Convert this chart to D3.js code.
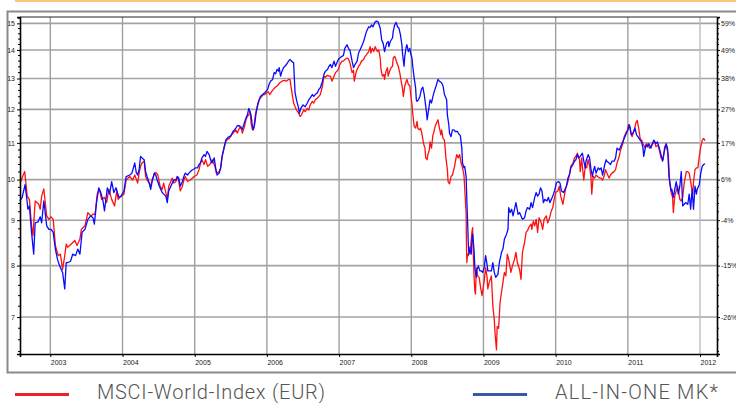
<!DOCTYPE html>
<html>
<head>
<meta charset="utf-8">
<script src="https://cdn.jsdelivr.net/npm/d3@7"></script>
<style>
    body { margin: 0; background: #fff; }
    .tick-label { font-family: "Liberation Sans", Arial, sans-serif; font-size: 7px; fill: #222; }
    .legend-label { font-family: Roboto, "Open Sans", sans-serif; font-weight: 300; font-size: 20px; fill: #555; }
</style>
</head>
<body>
<div id="chart"></div>
<script>
// values: [decimal year, index value]
const msci = [
    [2002.58,9.91],[2002.645,10.21],[2002.68,9.58],[2002.71,9.50],[2002.74,8.87],[2002.76,8.65],[2002.79,9.46],[2002.84,9.38],[2002.86,9.26],[2002.88,9.58],[2002.91,9.76],[2002.95,9.10],[2002.98,9.02],
    [2003.01,9.08],[2003.04,9.02],[2003.07,8.43],[2003.11,8.21],[2003.14,8.24],[2003.17,7.92],[2003.20,8.21],[2003.22,8.46],[2003.24,8.39],[2003.29,8.46],[2003.34,8.54],[2003.37,8.43],[2003.41,8.57],[2003.43,8.79],[2003.48,8.87],[2003.52,9.18],[2003.56,9.10],[2003.59,9.14],[2003.62,9.14],[2003.65,9.63],[2003.68,9.75],[2003.71,9.50],[2003.75,9.55],[2003.78,9.42],[2003.81,9.75],[2003.85,9.50],[2003.89,9.34],[2003.92,9.71],[2003.94,9.50],[2003.98,9.58],
    [2004.02,9.63],[2004.05,9.99],[2004.10,10.08],[2004.14,9.99],[2004.17,10.12],[2004.21,9.91],[2004.23,10.17],[2004.25,10.35],[2004.27,10.44],[2004.30,10.49],[2004.32,10.08],[2004.34,9.99],[2004.37,9.91],[2004.39,9.83],[2004.41,9.99],[2004.45,10.19],[2004.47,10.17],[2004.49,10.12],[2004.52,9.83],[2004.55,9.75],[2004.57,9.91],[2004.60,9.67],[2004.62,9.50],[2004.64,9.83],[2004.66,9.91],[2004.69,10.04],[2004.71,9.91],[2004.74,9.95],[2004.76,10.08],[2004.78,9.95],[2004.80,9.71],[2004.83,9.83],[2004.85,9.99],[2004.87,10.08],[2004.90,9.95],[2004.94,9.99],[2004.99,10.08],
    [2005.03,10.12],[2005.06,10.26],[2005.08,10.44],[2005.10,10.53],[2005.13,10.40],[2005.15,10.53],[2005.18,10.35],[2005.21,10.40],[2005.24,10.53],[2005.28,10.35],[2005.30,10.17],[2005.34,10.21],[2005.36,10.31],[2005.38,10.62],[2005.41,10.89],[2005.44,11.08],[2005.48,11.13],[2005.51,11.23],[2005.55,11.33],[2005.57,11.38],[2005.59,11.28],[2005.62,11.43],[2005.64,11.48],[2005.66,11.28],[2005.69,11.48],[2005.71,11.68],[2005.73,11.78],[2005.75,11.83],[2005.77,11.93],[2005.78,11.58],[2005.80,11.38],[2005.82,11.43],[2005.84,11.83],[2005.87,12.14],[2005.89,12.30],[2005.93,12.41],[2005.95,12.47],[2005.97,12.47],
    [2006.00,12.53],[2006.02,12.56],[2006.04,12.47],[2006.07,12.58],[2006.09,12.64],[2006.11,12.69],[2006.14,12.75],[2006.16,12.80],[2006.18,12.86],[2006.21,12.91],[2006.23,12.93],[2006.25,12.94],[2006.27,12.91],[2006.30,12.97],[2006.32,12.97],[2006.34,12.64],[2006.37,12.20],[2006.39,12.08],[2006.41,11.98],[2006.44,11.88],[2006.46,11.78],[2006.48,11.83],[2006.51,11.98],[2006.53,11.93],[2006.56,12.03],[2006.58,11.98],[2006.60,12.14],[2006.63,12.25],[2006.65,12.20],[2006.67,12.30],[2006.70,12.36],[2006.72,12.41],[2006.74,12.47],[2006.77,12.75],[2006.79,13.08],[2006.81,13.04],[2006.84,13.11],[2006.86,13.08],[2006.88,13.08],[2006.90,12.91],[2006.93,13.08],[2006.95,13.20],[2006.97,13.25],[2006.99,13.31],
    [2007.01,13.48],[2007.04,13.60],[2007.06,13.60],[2007.08,13.66],[2007.11,13.71],[2007.13,13.68],[2007.15,13.54],[2007.18,13.20],[2007.20,13.28],[2007.21,12.91],[2007.24,13.25],[2007.27,13.42],[2007.29,13.48],[2007.31,13.60],[2007.34,13.66],[2007.36,13.77],[2007.38,13.83],[2007.41,13.94],[2007.43,14.12],[2007.44,13.89],[2007.46,14.06],[2007.48,13.94],[2007.50,14.12],[2007.51,14.06],[2007.53,13.94],[2007.55,14.00],[2007.57,13.71],[2007.58,13.31],[2007.60,13.08],[2007.62,13.14],[2007.63,12.97],[2007.65,13.25],[2007.67,13.37],[2007.68,13.08],[2007.70,13.25],[2007.72,13.37],[2007.74,13.42],[2007.75,13.71],[2007.77,13.77],[2007.78,13.71],[2007.80,13.54],[2007.82,13.42],[2007.84,13.20],[2007.86,12.91],[2007.88,12.64],[2007.89,12.41],[2007.91,12.75],[2007.93,12.91],[2007.94,12.97],[2007.96,12.80],[2007.98,12.75],[2007.99,12.53],
    [2008.01,12.14],[2008.02,11.88],[2008.04,11.48],[2008.06,11.43],[2008.08,11.63],[2008.09,11.43],[2008.11,11.38],[2008.13,11.43],[2008.15,11.23],[2008.17,10.98],[2008.19,10.85],[2008.20,10.58],[2008.22,10.53],[2008.23,10.67],[2008.25,10.80],[2008.26,11.03],[2008.28,10.85],[2008.30,11.23],[2008.31,11.28],[2008.33,11.48],[2008.35,11.58],[2008.37,11.68],[2008.39,11.43],[2008.41,11.23],[2008.42,11.38],[2008.44,11.13],[2008.46,11.08],[2008.48,10.58],[2008.50,10.26],[2008.51,9.95],[2008.53,9.89],[2008.55,10.08],[2008.57,10.12],[2008.60,10.35],[2008.62,10.58],[2008.63,10.67],[2008.65,10.58],[2008.67,10.67],[2008.69,10.44],[2008.71,10.31],[2008.73,10.12],[2008.74,9.79],[2008.76,9.14],[2008.765,8.39],[2008.77,8.06],[2008.78,8.24],[2008.79,8.21],[2008.81,8.39],[2008.82,8.35],[2008.84,8.72],[2008.85,8.83],[2008.86,8.24],[2008.87,7.76],[2008.88,7.50],[2008.89,7.43],[2008.90,7.96],[2008.92,7.79],[2008.94,7.76],[2008.96,7.56],[2008.98,7.40],
    [2009.01,7.69],[2009.03,7.96],[2009.05,7.76],[2009.06,7.53],[2009.08,7.66],[2009.11,7.79],[2009.13,7.21],[2009.15,6.95],[2009.16,6.72],[2009.18,6.43],[2009.19,6.83],[2009.21,6.80],[2009.23,7.27],[2009.25,7.47],[2009.27,7.66],[2009.29,7.86],[2009.31,7.79],[2009.33,8.24],[2009.35,8.13],[2009.38,7.86],[2009.40,7.99],[2009.43,8.13],[2009.45,8.28],[2009.47,8.06],[2009.50,7.92],[2009.52,7.72],[2009.54,8.28],[2009.57,8.50],[2009.59,8.72],[2009.61,8.76],[2009.64,8.87],[2009.66,8.91],[2009.67,8.79],[2009.69,8.98],[2009.71,8.87],[2009.73,9.02],[2009.75,8.72],[2009.77,9.06],[2009.80,8.94],[2009.82,8.79],[2009.84,9.02],[2009.87,9.10],[2009.89,8.94],[2009.91,9.02],[2009.94,9.22],[2009.96,9.30],[2009.98,9.50],
    [2010.00,9.67],[2010.03,9.71],[2010.05,9.83],[2010.07,9.58],[2010.10,9.38],[2010.12,9.58],[2010.14,9.79],[2010.17,9.95],[2010.19,10.12],[2010.21,10.35],[2010.24,10.44],[2010.26,10.58],[2010.28,10.62],[2010.30,10.71],[2010.33,10.53],[2010.34,10.21],[2010.36,10.58],[2010.37,10.35],[2010.39,9.99],[2010.41,10.35],[2010.43,10.31],[2010.45,10.53],[2010.47,10.35],[2010.49,10.04],[2010.50,9.63],[2010.52,10.08],[2010.54,10.04],[2010.56,10.12],[2010.58,10.08],[2010.61,10.04],[2010.63,10.04],[2010.65,9.99],[2010.67,10.08],[2010.69,10.26],[2010.71,10.17],[2010.74,10.04],[2010.76,10.12],[2010.78,10.17],[2010.81,10.21],[2010.83,10.26],[2010.85,10.44],[2010.88,10.62],[2010.90,10.80],[2010.93,10.98],[2010.95,11.18],[2010.97,11.28],
    [2011.00,11.38],[2011.01,11.53],[2011.03,11.43],[2011.04,11.28],[2011.06,11.18],[2011.09,11.38],[2011.11,11.58],[2011.13,11.66],[2011.15,11.43],[2011.17,11.13],[2011.19,11.08],[2011.21,10.98],[2011.24,10.85],[2011.26,10.98],[2011.28,10.94],[2011.30,10.85],[2011.33,10.94],[2011.35,10.98],[2011.37,11.03],[2011.39,10.89],[2011.42,10.94],[2011.44,10.76],[2011.46,10.58],[2011.49,10.53],[2011.51,10.89],[2011.53,10.94],[2011.56,10.67],[2011.58,9.91],[2011.60,9.67],[2011.62,9.55],[2011.63,9.18],[2011.65,9.58],[2011.67,9.71],[2011.69,9.83],[2011.72,9.50],[2011.74,9.46],[2011.76,9.55],[2011.78,9.91],[2011.81,10.21],[2011.83,10.21],[2011.85,10.17],[2011.88,9.83],[2011.90,9.63],[2011.91,9.95],[2011.93,10.26],[2011.95,10.31],[2011.97,10.31],[2011.99,10.62],
    [2012.01,10.89],[2012.03,11.08],[2012.05,11.13],[2012.07,11.06]
];

const allInOne = [
    [2002.58,9.46],[2002.61,9.55],[2002.65,9.87],[2002.67,9.58],[2002.69,9.26],[2002.71,9.34],[2002.74,8.72],[2002.77,8.24],[2002.79,8.94],[2002.83,8.96],[2002.86,9.08],[2002.88,8.94],[2002.91,9.46],[2002.95,8.87],[2002.98,8.79],
    [2003.01,8.79],[2003.04,8.72],[2003.07,8.35],[2003.10,8.13],[2003.13,7.99],[2003.17,7.86],[2003.20,7.53],[2003.22,8.06],[2003.24,8.06],[2003.28,8.09],[2003.31,8.24],[2003.35,8.21],[2003.38,8.35],[2003.41,8.24],[2003.44,8.72],[2003.48,8.79],[2003.52,9.02],[2003.56,9.10],[2003.59,9.06],[2003.61,8.91],[2003.64,9.42],[2003.67,9.79],[2003.70,9.67],[2003.73,9.46],[2003.75,9.22],[2003.79,9.79],[2003.82,9.63],[2003.85,9.95],[2003.88,9.67],[2003.91,9.79],[2003.95,9.55],[2003.98,9.58],
    [2004.02,9.71],[2004.05,10.08],[2004.10,10.12],[2004.13,10.17],[2004.17,10.44],[2004.19,10.19],[2004.21,10.12],[2004.23,10.26],[2004.25,10.62],[2004.27,10.58],[2004.30,10.53],[2004.32,10.21],[2004.34,10.08],[2004.37,9.91],[2004.39,9.75],[2004.41,9.95],[2004.44,10.17],[2004.46,10.12],[2004.48,9.99],[2004.51,9.83],[2004.53,9.75],[2004.55,9.67],[2004.57,9.63],[2004.60,9.58],[2004.62,9.42],[2004.64,9.71],[2004.66,9.79],[2004.69,9.91],[2004.71,9.99],[2004.74,9.99],[2004.76,10.08],[2004.78,10.04],[2004.80,9.83],[2004.83,9.95],[2004.85,10.08],[2004.87,10.17],[2004.90,10.12],[2004.92,10.17],[2004.94,10.21],[2004.97,10.26],[2004.99,10.28],
    [2005.01,10.31],[2005.04,10.31],[2005.06,10.40],[2005.08,10.44],[2005.10,10.58],[2005.13,10.67],[2005.15,10.62],[2005.17,10.76],[2005.20,10.67],[2005.22,10.53],[2005.24,10.44],[2005.27,10.58],[2005.29,10.31],[2005.31,10.12],[2005.34,10.17],[2005.36,10.31],[2005.38,10.62],[2005.41,10.89],[2005.43,11.08],[2005.46,11.16],[2005.50,11.20],[2005.53,11.33],[2005.55,11.38],[2005.57,11.43],[2005.59,11.50],[2005.62,11.50],[2005.64,11.43],[2005.66,11.40],[2005.69,11.60],[2005.71,11.73],[2005.73,11.83],[2005.75,12.03],[2005.78,11.83],[2005.80,11.48],[2005.81,11.38],[2005.83,11.53],[2005.85,11.88],[2005.88,12.20],[2005.91,12.41],[2005.94,12.47],[2005.97,12.53],
    [2006.01,12.64],[2006.03,12.80],[2006.05,12.91],[2006.08,12.97],[2006.10,13.20],[2006.12,13.16],[2006.14,13.31],[2006.16,13.25],[2006.17,13.37],[2006.19,13.08],[2006.21,13.25],[2006.23,13.37],[2006.25,13.42],[2006.27,13.48],[2006.30,13.60],[2006.32,13.66],[2006.34,13.60],[2006.37,13.54],[2006.39,12.53],[2006.41,12.30],[2006.44,12.03],[2006.45,11.88],[2006.47,12.03],[2006.50,12.14],[2006.53,12.08],[2006.56,12.20],[2006.58,12.30],[2006.60,12.36],[2006.63,12.47],[2006.65,12.41],[2006.67,12.47],[2006.70,12.53],[2006.72,12.64],[2006.74,12.69],[2006.77,12.91],[2006.79,13.14],[2006.81,13.25],[2006.84,13.31],[2006.86,13.42],[2006.88,13.48],[2006.90,13.37],[2006.93,13.60],[2006.95,13.42],[2006.97,13.54],[2006.99,13.66],
    [2007.01,13.71],[2007.04,13.77],[2007.06,13.80],[2007.08,14.06],[2007.11,14.19],[2007.13,14.06],[2007.15,14.00],[2007.18,13.60],[2007.20,13.37],[2007.22,13.48],[2007.25,13.60],[2007.27,13.89],[2007.29,14.00],[2007.31,14.12],[2007.34,14.31],[2007.36,14.50],[2007.38,14.69],[2007.41,14.87],[2007.43,14.84],[2007.45,14.94],[2007.47,14.87],[2007.50,15.06],[2007.52,15.09],[2007.54,15.06],[2007.57,14.81],[2007.59,14.37],[2007.61,14.25],[2007.63,13.94],[2007.64,14.06],[2007.66,14.25],[2007.68,14.31],[2007.69,14.12],[2007.71,14.31],[2007.74,14.44],[2007.75,14.69],[2007.77,14.94],[2007.79,15.04],[2007.81,14.87],[2007.83,14.81],[2007.85,14.56],[2007.87,14.19],[2007.88,13.83],[2007.90,13.42],[2007.91,13.77],[2007.93,14.12],[2007.94,14.19],[2007.96,13.94],[2007.98,14.06],[2007.99,13.89],
    [2008.01,13.71],[2008.02,13.42],[2008.04,13.02],[2008.06,12.69],[2008.07,12.30],[2008.08,12.25],[2008.10,12.30],[2008.12,12.41],[2008.14,12.64],[2008.16,12.71],[2008.18,12.47],[2008.21,11.93],[2008.22,11.68],[2008.24,11.98],[2008.26,12.30],[2008.28,12.20],[2008.30,12.41],[2008.32,12.58],[2008.35,12.80],[2008.37,12.97],[2008.39,12.91],[2008.42,12.86],[2008.44,12.75],[2008.46,12.47],[2008.49,12.30],[2008.50,11.83],[2008.52,11.53],[2008.53,11.28],[2008.55,11.18],[2008.57,11.38],[2008.59,11.38],[2008.61,11.33],[2008.64,11.33],[2008.66,11.25],[2008.68,11.21],[2008.70,10.85],[2008.71,10.44],[2008.73,10.31],[2008.74,10.35],[2008.76,10.08],[2008.77,9.46],[2008.78,8.98],[2008.79,8.46],[2008.80,8.24],[2008.81,8.35],[2008.83,8.24],[2008.84,8.54],[2008.85,8.68],[2008.87,8.32],[2008.88,7.96],[2008.90,7.76],[2008.91,7.92],[2008.93,7.99],[2008.95,7.89],[2008.97,7.89],[2008.99,7.86],
    [2009.01,7.96],[2009.03,8.21],[2009.05,8.02],[2009.06,7.89],[2009.08,7.89],[2009.11,7.89],[2009.13,8.06],[2009.15,7.86],[2009.17,7.76],[2009.20,7.82],[2009.22,8.06],[2009.25,8.28],[2009.27,8.35],[2009.29,8.57],[2009.32,8.68],[2009.34,8.79],[2009.35,9.30],[2009.37,9.18],[2009.39,9.26],[2009.41,9.10],[2009.43,9.26],[2009.45,9.42],[2009.48,9.14],[2009.50,9.18],[2009.52,9.10],[2009.54,9.02],[2009.57,9.06],[2009.59,9.22],[2009.61,9.30],[2009.64,9.26],[2009.66,9.42],[2009.68,9.30],[2009.71,9.55],[2009.73,9.67],[2009.75,9.58],[2009.77,9.63],[2009.79,9.79],[2009.81,9.71],[2009.83,9.42],[2009.85,9.50],[2009.88,9.46],[2009.90,9.55],[2009.92,9.42],[2009.94,9.50],[2009.97,9.63],[2009.99,9.75],
    [2010.01,9.91],[2010.04,9.95],[2010.06,9.91],[2010.08,9.71],[2010.11,9.67],[2010.13,9.75],[2010.15,9.83],[2010.17,10.04],[2010.19,10.12],[2010.21,10.31],[2010.24,10.40],[2010.26,10.49],[2010.28,10.53],[2010.30,10.67],[2010.32,10.58],[2010.34,10.62],[2010.37,10.71],[2010.39,10.49],[2010.41,10.31],[2010.42,10.49],[2010.45,10.67],[2010.47,10.58],[2010.49,10.26],[2010.51,10.08],[2010.52,10.21],[2010.54,10.35],[2010.56,10.17],[2010.59,10.31],[2010.61,10.26],[2010.63,10.31],[2010.65,10.12],[2010.68,10.40],[2010.70,10.53],[2010.71,10.49],[2010.74,10.44],[2010.76,10.40],[2010.78,10.49],[2010.81,10.49],[2010.83,10.58],[2010.85,10.85],[2010.88,10.80],[2010.90,10.89],[2010.93,11.03],[2010.95,11.13],[2010.97,11.23],
    [2011.00,11.38],[2011.02,11.53],[2011.03,11.46],[2011.05,11.23],[2011.07,11.28],[2011.10,11.43],[2011.12,11.23],[2011.14,11.18],[2011.17,11.08],[2011.19,11.03],[2011.21,10.85],[2011.22,10.62],[2011.25,10.94],[2011.27,10.89],[2011.29,10.98],[2011.32,10.85],[2011.34,10.98],[2011.36,11.08],[2011.39,10.98],[2011.41,11.03],[2011.43,10.89],[2011.46,10.67],[2011.48,10.49],[2011.50,10.71],[2011.53,10.98],[2011.55,10.85],[2011.57,10.08],[2011.60,9.71],[2011.61,9.75],[2011.63,9.55],[2011.65,9.75],[2011.67,9.95],[2011.70,9.63],[2011.72,9.83],[2011.74,10.21],[2011.76,9.34],[2011.78,9.38],[2011.80,9.42],[2011.83,9.38],[2011.85,9.63],[2011.87,9.26],[2011.89,9.75],[2011.91,9.26],[2011.93,9.83],[2011.95,9.63],[2011.96,9.75],[2011.99,9.87],
    [2012.01,10.17],[2012.03,10.35],[2012.05,10.40],[2012.07,10.42]
];

const years = [2003, 2004, 2005, 2006, 2007, 2008, 2009, 2010, 2011, 2012];
const levels = [7, 8, 9, 10, 11, 12, 13, 14, 15];
const levelPercents = ["-26%", "-15%", "-4%", "6%", "17%", "27%", "38%", "49%", "59%"];
const seriesNames = ["MSCI-World-Index (EUR)", "ALL-IN-ONE MK*"];

class PerformanceVis {
    constructor(_parentElement) {
        this.parentElement = _parentElement;
        this.initVis();
    }

    initVis() {
        const vis = this;

        vis.outerWidth = 736;
        vis.outerHeight = 403;
        vis.margin = { top: 17, right: 19, bottom: 49, left: 20 };
        vis.width = vis.outerWidth - vis.margin.left - vis.margin.right;
        vis.height = vis.outerHeight - vis.margin.top - vis.margin.bottom;

        vis.svg = d3.select(`#${vis.parentElement}`)
            .append("svg")
            .attr("width", vis.outerWidth)
            .attr("height", vis.outerHeight);

        // decorative page frame
        vis.svg.append("line")
            .attr("x1", 15).attr("x2", vis.outerWidth)
            .attr("y1", 1).attr("y2", 1)
            .attr("stroke", "#f8c57c").attr("stroke-width", 2);

        vis.svg.append("path")
            .attr("d", `M${vis.outerWidth},11.5H7.5V372.5H${vis.outerWidth}`)
            .attr("fill", "none")
            .attr("stroke", "#8a8a8a")
            .attr("stroke-width", 2);

        vis.g = vis.svg.append("g")
            .attr("transform", `translate(${vis.margin.left},${vis.margin.top})`);

        // Scales
        vis.x = d3.scaleLinear().domain([2002.58, 2012.235]).range([0, vis.width]);
        vis.y = d3.scaleLog().domain([6.36, 15.25]).range([vis.height, 0]);

        vis.updateVis();
    }

    updateVis() {
        const vis = this;
        const minorTicks = d3.range(6.4, 15.3, 0.2).filter(v => Math.abs(v - Math.round(v)) > 0.01);

        // Grid
        vis.g.append("g")
            .selectAll("line")
            .data(levels)
            .join("line")
            .attr("x1", 0).attr("x2", vis.width)
            .attr("y1", d => vis.y(d)).attr("y2", d => vis.y(d))
            .attr("stroke", "#a3a3a3").attr("stroke-width", 1.6);

        vis.g.append("g")
            .selectAll("line")
            .data(years)
            .join("line")
            .attr("x1", d => vis.x(d)).attr("x2", d => vis.x(d))
            .attr("y1", 0).attr("y2", vis.height)
            .attr("stroke", d => d === 2012 ? "#bdbdbd" : "#a0a0a0").attr("stroke-width", 1.4);

        // Lines
        const line = d3.line()
            .x(d => vis.x(d[0]))
            .y(d => vis.y(d[1]));

        vis.g.append("path")
            .datum(msci)
            .attr("fill", "none")
            .attr("stroke", "#ff1010")
            .attr("stroke-width", 1.3)
            .attr("stroke-linejoin", "round")
            .attr("d", line);

        vis.g.append("path")
            .datum(allInOne)
            .attr("fill", "none")
            .attr("stroke", "#0a0aff")
            .attr("stroke-width", 1.3)
            .attr("stroke-linejoin", "round")
            .attr("d", line);

        // Axes
        const leftAxis = vis.g.append("g")
            .call(d3.axisLeft(vis.y).tickValues(levels).tickFormat(d3.format("d")).tickSize(3).tickPadding(2));
        leftAxis.append("g").selectAll("line")
            .data(minorTicks).join("line")
            .attr("x1", -2).attr("x2", 0)
            .attr("y1", d => vis.y(d)).attr("y2", d => vis.y(d))
            .attr("stroke", "#000");

        const rightAxis = vis.g.append("g")
            .attr("transform", `translate(${vis.width},0)`)
            .call(d3.axisRight(vis.y).tickValues(levels)
                .tickFormat(d => levelPercents[levels.indexOf(d)]).tickSize(3).tickPadding(1));
        rightAxis.append("g").selectAll("line")
            .data(minorTicks).join("line")
            .attr("x1", 0).attr("x2", 2)
            .attr("y1", d => vis.y(d)).attr("y2", d => vis.y(d))
            .attr("stroke", "#000");

        const bottomAxis = vis.g.append("g")
            .attr("transform", `translate(0,${vis.height})`)
            .call(d3.axisBottom(vis.x).tickValues(years).tickFormat(d3.format("d")).tickSize(3).tickPadding(3));
        bottomAxis.selectAll("text").attr("text-anchor", "start");

        vis.g.append("line")
            .attr("x1", 0).attr("x2", vis.width)
            .attr("y1", 0).attr("y2", 0)
            .attr("stroke", "#222").attr("stroke-width", 1.2);

        [leftAxis, rightAxis, bottomAxis].forEach(ax => {
            ax.select(".domain").attr("stroke", "#000").attr("stroke-width", 1.6);
            ax.selectAll(".tick line").attr("stroke", "#000");
            ax.selectAll("text").attr("class", "tick-label").attr("font-size", null).attr("font-family", null).attr("fill", null);
        });

        // Legend
        const legend = vis.svg.append("g");
        const legendItems = [
            { name: seriesNames[0], color: "#e8232b", x: 15, textWidth: 228 },
            { name: seriesNames[1], color: "#3a57a7", x: 473, textWidth: 163 }
        ];
        legendItems.forEach(item => {
            legend.append("line")
                .attr("x1", item.x).attr("x2", item.x + 54)
                .attr("y1", 394.5).attr("y2", 394.5)
                .attr("stroke", item.color).attr("stroke-width", 3);
            legend.append("text")
                .attr("class", "legend-label")
                .attr("x", item.x + 82)
                .attr("y", 399)
                .attr("textLength", item.textWidth)
                .attr("lengthAdjust", "spacing")
                .text(item.name);
        });
    }
}

new PerformanceVis("chart");
</script>
</body>
</html>
